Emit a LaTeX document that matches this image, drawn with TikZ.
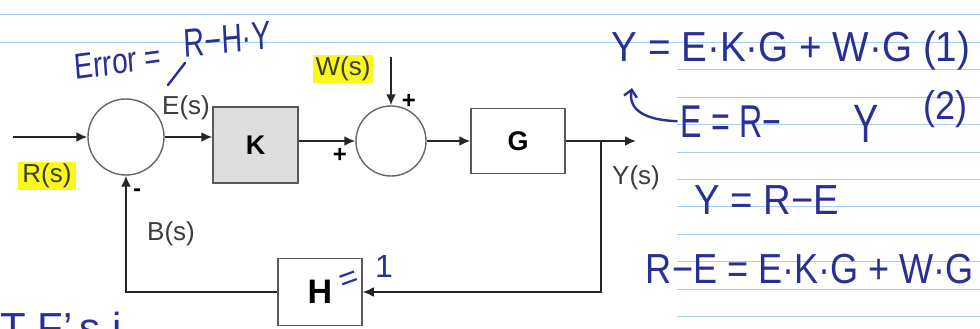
\documentclass[tikz,border=0pt]{standalone}
\usepackage{fontspec}
\setmainfont{Liberation Sans}
\usetikzlibrary{arrows.meta}

\definecolor{ink}{RGB}{40,48,150}
\definecolor{ruleblue}{RGB}{168,206,244}
\definecolor{hilite}{RGB}{250,250,25}
\definecolor{kfill}{RGB}{222,222,222}
\definecolor{lblgray}{RGB}{60,60,60}
\newcommand{\handsz}[1]{\fontsize{#1}{#1}\selectfont}

\begin{document}
\begin{tikzpicture}[x=1pt, y=-1pt,
  blk/.style={draw=black!65, line width=1.5pt, rectangle, font=\handsz{27}\bfseries},
  sumc/.style={draw=black!60, line width=1.4pt, circle, minimum size=76pt},
  sig/.style={draw=black!85, line width=2pt, -{Latex[length=11pt, width=10pt]}},
  lbl/.style={text=lblgray, font=\handsz{26}, inner sep=2pt},
  sgn/.style={font=\handsz{24}\bfseries, inner sep=0pt},
  hand/.style={text=ink, inner sep=0pt, anchor=base},
  inkline/.style={draw=ink, line width=2.4pt, line cap=round},
  rule/.style={draw=ruleblue, line width=1pt}]

  \useasboundingbox (0,0) rectangle (980,329);
  \clip (0,0) rectangle (980,329);
  \fill[white] (0,0) rectangle (980,329);

  % ruled paper
  \draw[rule] (0,15) -- (980,15);
  \draw[rule] (0,42.4) -- (980,42.4);
  \foreach \k in {2,...,11}
    \draw[rule] (677,15+27.4*\k) -- (980,15+27.4*\k);

  % Nodes
  \node[sumc] (s1) at (126,137) {};
  \node[blk, fill=kfill, minimum width=85pt, minimum height=76pt] (K) at (255.5,145) {K};
  \node[sumc, minimum size=70pt] (s2) at (391,141) {};
  \node[blk, minimum width=94pt, minimum height=65pt] (G) at (518,141) {G};
  \node[blk, minimum width=84pt, minimum height=67pt, font=\handsz{34}\bfseries] (H) at (320,292) {H};

  \coordinate (rin) at (13,137);
  \coordinate (win) at (391,57);
  \coordinate (yb) at (601,141);
  \coordinate (yout) at (636,141);

  \node[lbl, fill=hilite, inner xsep=4pt] (Rs) at (47,176) {R(s)};
  \node[lbl] (Es) at (186,108) {E(s)};
  \node[lbl, fill=hilite, inner xsep=3pt] (Ws) at (343,69) {W(s)};
  \node[lbl] (Ys) at (636,178) {Y(s)};
  \node[lbl] (Bs) at (171,234) {B(s)};

  \node[sgn] (pw) at (409,101) {+};
  \node[sgn] (pk) at (340,155) {+};
  \node[sgn] (mb) at (137,193) {-};

  % Arrows
  \draw[sig] (rin) -- (s1);
  \draw[sig] (s1.east) -- (s1.east -| K.west);
  \draw[sig] (K.east |- s2.west) -- (s2.west);
  \draw[sig] (win) -- (s2);
  \draw[sig] (s2) -- (G);
  \draw[sig] (G.east) -- (yout);
  \draw[sig] (yb) |- (H.east);
  \draw[sig] (H.west) -| (s1.south);

  % handwritten notes
  \node[hand, font=\handsz{36}, xscale=0.78, rotate=6] (err) at (119,74) {Error =};
  \node[hand, font=\handsz{40}, xscale=0.72, rotate=4] (rhy) at (228,53) {R−H·Y};
  \coordinate (tickA) at (168,85);
  \coordinate (tickB) at (185,63);
  \draw[inkline] (tickA) -- (tickB);

  \node[hand, font=\handsz{42}, xscale=0.92] (eqa) at (791,62) {Y = E·K·G + W·G (1)};
  \node[hand, font=\handsz{46}, xscale=0.7] (eqb) at (731,137) {E = R−};
  \node[hand, font=\handsz{54}, xscale=0.7] (eqby) at (866,142) {Y};
  \node[hand, font=\handsz{40}, xscale=0.9] (eqbn) at (945,119) {(2)};
  \coordinate (ytail) at (632,88);
  \draw[inkline, -{Straight Barb[length=7pt, width=13pt]}] ([xshift=-4pt]eqb.west) .. controls (645,120) and (628,110) .. (ytail);

  \node[hand, font=\handsz{42}, xscale=0.91] (eqc) at (767,214) {Y = R−E};
  \node[hand, font=\handsz{42}, xscale=0.86] (eqd) at (810,283) {R−E = E·K·G + W·G};

  \node[hand, font=\handsz{32}, rotate=20] (heq) at (352,288) {=};
  \node[hand, font=\handsz{32}] (hone) at (384,277) {1};

  \node[hand, font=\handsz{42}, anchor=base west] (tfs) at (0,342) {T F'\,s i};
\end{tikzpicture}
\end{document}
